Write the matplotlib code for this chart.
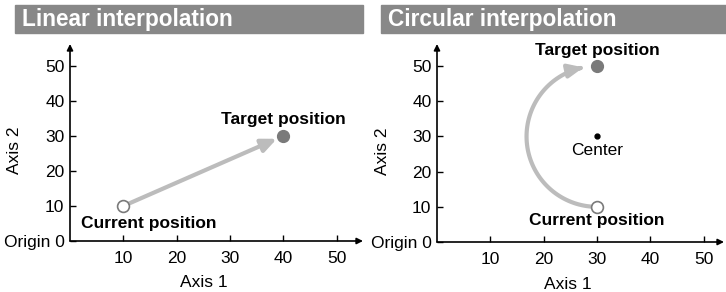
import numpy as np
import matplotlib
matplotlib.use("Agg")
import matplotlib.pyplot as plt
from matplotlib.patches import Rectangle, FancyArrowPatch
from matplotlib.path import Path

plt.rcParams['font.family'] = ['Liberation Sans', 'DejaVu Sans']

# ====================== DATA ======================
titles = ["Linear interpolation", "Circular interpolation"]
tick_values = [0, 10, 20, 30, 40, 50]
ytick_labels = ["Origin 0", "10", "20", "30", "40", "50"]
xtick_values = [10, 20, 30, 40, 50]

linear_current = (10, 10)
linear_target = (40, 30)

circ_current = (30, 10)
circ_target = (30, 50)
circ_center = (30, 30)

BAR = "#888888"
MARK = "#7a7a7a"
ARROW = "#bcbcbc"

fig = plt.figure(figsize=(7.26, 2.92), dpi=100)
W, H = 726, 292

def px_axes(x0, x1, y_bottom, y_top):
    return fig.add_axes([x0 / W, 1 - y_bottom / H, (x1 - x0) / W, (y_bottom - y_top) / H])

ax1 = px_axes(70, 363, 241, 44)
ax2 = px_axes(437, 724, 242, 44)
ax1.set_xlim(0, (363 - 70) / 5.33)
ax2.set_xlim(0, (724 - 437) / 5.33)
for ax in (ax1, ax2):
    ax.set_ylim(0, 197 / 3.5)

# title bars
for (x0, x1), title in zip([(15, 363), (381, 726)], titles):
    fig.patches.append(Rectangle((x0 / W, 1 - 33 / H), (x1 - x0) / W, 28 / H,
                                 transform=fig.transFigure, color=BAR, zorder=0))
    fig.text((x0 + 7) / W, 1 - 19.5 / H, title, color="white", fontsize=16.3,
             fontweight="bold", va="center", ha="left")

for ax in (ax1, ax2):
    for s in ax.spines.values():
        s.set_visible(False)
    ax.patch.set_visible(False)
    ax.annotate("", xy=(1, 0), xytext=(0, 0), xycoords="axes fraction",
                arrowprops=dict(arrowstyle="-|>", color="black", lw=1.2,
                                mutation_scale=9, shrinkA=0, shrinkB=0))
    ax.annotate("", xy=(0, 1), xytext=(0, 0), xycoords="axes fraction",
                arrowprops=dict(arrowstyle="-|>", color="black", lw=1.2,
                                mutation_scale=9, shrinkA=0, shrinkB=0))
    ax.set_xticks(xtick_values)
    ax.set_xticklabels([str(v) for v in xtick_values])
    ax.set_yticks(tick_values)
    ax.set_yticklabels(ytick_labels)
    ax.tick_params(direction="in", length=4, width=1, labelsize=12.5)
    ax.tick_params(axis="x", pad=7)
    ax.tick_params(axis="y", pad=4)
    ax.set_xlabel("Axis 1", fontsize=12.5)
    ax.set_ylabel("Axis 2", fontsize=12.5)
    ax.xaxis.set_label_coords(0.455, -0.175)
    ax.yaxis.set_label_coords(-0.165, 0.46)

# ---- linear interpolation ----
ax1.annotate("", xy=linear_target, xytext=linear_current,
             arrowprops=dict(arrowstyle="-|>,head_length=0.9,head_width=0.4",
                             color=ARROW, lw=3, shrinkA=4, shrinkB=5,
                             mutation_scale=10))
ax1.plot(*linear_current, "o", ms=8.5, mfc="white", mec=MARK, mew=1.2, zorder=5)
ax1.plot(*linear_target, "o", ms=8.5, color=MARK, zorder=5)
ax1.annotate("Current position", xy=linear_current, xytext=(18.5, -12.5),
             textcoords="offset points", ha="center", va="center",
             fontsize=12.5, fontweight="bold")
ax1.annotate("Target position", xy=linear_target, xytext=(0, 12),
             textcoords="offset points", ha="center", va="center",
             fontsize=12.5, fontweight="bold")

# ---- circular interpolation ----
# semicircle in screen space: scale the x radius by the axes aspect
ry = (circ_target[1] - circ_current[1]) / 2
bb = ax2.get_position()
px_x = bb.width * W / np.diff(ax2.get_xlim())[0]
px_y = bb.height * H / np.diff(ax2.get_ylim())[0]
rx = ry * px_y / px_x
theta = np.radians(np.linspace(270, 101, 80))
arc_x = circ_center[0] + rx * np.cos(theta)
arc_y = circ_center[1] + ry * np.sin(theta)
arc = FancyArrowPatch(path=Path(np.column_stack([arc_x, arc_y])),
                      arrowstyle="-|>,head_length=0.9,head_width=0.4",
                      color=ARROW, lw=3, mutation_scale=10,
                      transform=ax2.transData)
ax2.add_patch(arc)
ax2.plot(*circ_current, "o", ms=8.5, mfc="white", mec=MARK, mew=1.2, zorder=5)
ax2.plot(*circ_target, "o", ms=8.5, color=MARK, zorder=5)
ax2.plot(*circ_center, "o", ms=3.5, color="black", zorder=5)
ax2.annotate("Current position", xy=circ_current, xytext=(0, -10),
             textcoords="offset points", ha="center", va="center",
             fontsize=12.5, fontweight="bold")
ax2.annotate("Target position", xy=circ_target, xytext=(0, 11.5),
             textcoords="offset points", ha="center", va="center",
             fontsize=12.5, fontweight="bold")
ax2.annotate("Center", xy=circ_center, xytext=(0, -10),
             textcoords="offset points", ha="center", va="center",
             fontsize=12.5)

fig.savefig("out.png", dpi=100)
